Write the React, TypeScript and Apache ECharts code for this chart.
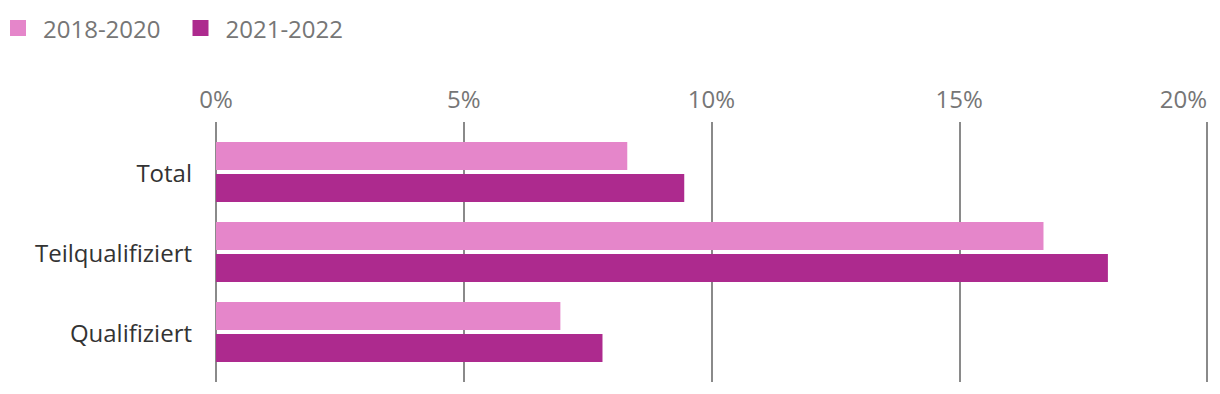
import React, { useEffect, useRef } from "react";
import * as echarts from "echarts";

const categories = ["Total", "Teilqualifiziert", "Qualifiziert"];
const seriesNames = ["2018-2020", "2021-2022"];
const values2018_2020 = [8.3, 16.7, 6.95];
const values2021_2022 = [9.45, 18.0, 7.8];
const xTicks = { min: 0, max: 20, interval: 5 };

const FONT = "'Open Sans', 'Noto Sans', sans-serif";
const LIGHT = "#E586CA";
const DARK = "#AD2A8E";
const GRID_COLOR = "#8a8a8a";

export default function App() {
  const ref = useRef<HTMLDivElement>(null);
  useEffect(() => {
    if (!ref.current) return;
    document.documentElement.style.overflow = "hidden";
    document.body.style.overflow = "hidden";
    document.body.style.margin = "0";
    const chart = echarts.init(ref.current, undefined, { renderer: "svg", width: 1220, height: 394 });
    chart.setOption({
      animation: false,
      backgroundColor: "#ffffff",
      textStyle: { fontFamily: FONT },
      legend: {
        left: 5,
        top: 11,
        icon: "rect",
        itemWidth: 16,
        itemHeight: 16,
        itemGap: 32,
        data: seriesNames,
        textStyle: {
          fontFamily: FONT,
          fontSize: 24,
          color: "#767676",
          padding: [0, 0, 0, 12],
        },
      },
      grid: [
        { left: 216, right: 13, top: 132, height: 240, containLabel: false, outerBoundsMode: "none" },
        { left: 216, right: 13, top: 122, height: 260, containLabel: false, outerBoundsMode: "none" },
      ],
      xAxis: [
        {
          gridIndex: 0,
          type: "value",
          min: xTicks.min,
          max: xTicks.max,
          interval: xTicks.interval,
          show: false,
        },
        {
          gridIndex: 1,
          type: "value",
          position: "top",
          min: xTicks.min,
          max: xTicks.max,
          interval: xTicks.interval,
          axisLine: { show: false },
          axisTick: { show: false },
          axisLabel: {
            formatter: "{value}%",
            fontFamily: FONT,
            fontSize: 24,
            color: "#767676",
            margin: 12,
            alignMaxLabel: "right",
          },
          splitLine: { show: true, lineStyle: { color: GRID_COLOR, width: 2 } },
        },
      ],
      yAxis: [
        {
          gridIndex: 0,
          type: "category",
          inverse: true,
          data: categories,
          axisLine: { show: false },
          axisTick: { show: false },
          axisLabel: {
            fontFamily: FONT,
            fontSize: 24,
            color: "#333333",
            margin: 24,
          },
          splitLine: { show: false },
        },
        {
          gridIndex: 1,
          type: "value",
          show: false,
          min: 0,
          max: 1,
        },
      ],
      series: [
        {
          name: seriesNames[0],
          type: "bar",
          xAxisIndex: 0,
          yAxisIndex: 0,
          data: values2018_2020,
          barWidth: 28,
          barGap: "14.3%",
          itemStyle: { color: LIGHT },
          z: 3,
        },
        {
          name: seriesNames[1],
          type: "bar",
          xAxisIndex: 0,
          yAxisIndex: 0,
          data: values2021_2022,
          barWidth: 28,
          barGap: "14.3%",
          itemStyle: { color: DARK },
          z: 3,
        },
      ],
    });
    return () => chart.dispose();
  }, []);
  return <div ref={ref} style={{ width: 1220, height: 394, position: "fixed", left: 0, top: 0 }} />;
}
